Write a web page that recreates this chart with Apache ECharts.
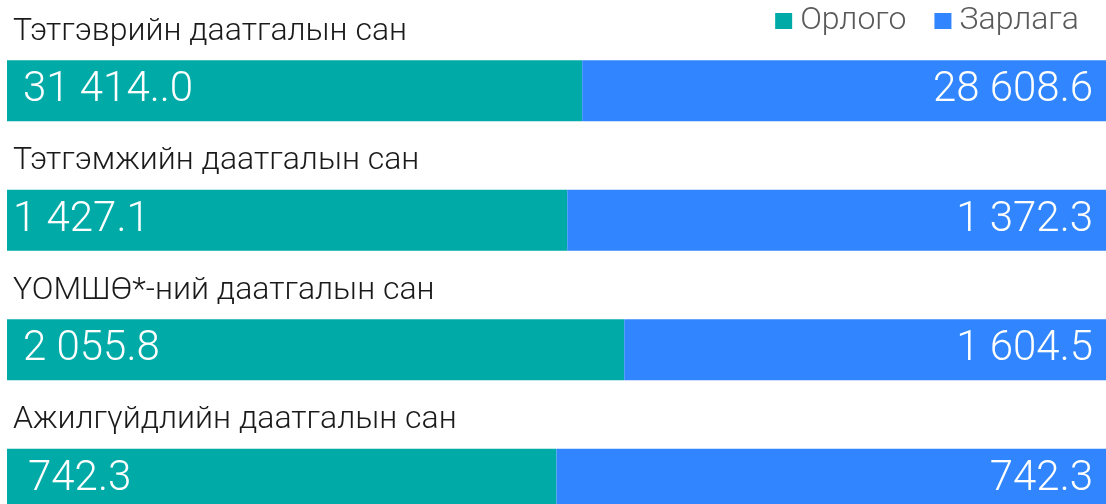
<!DOCTYPE html>
<html>
<head>
<meta charset="utf-8">
<script src="https://cdn.jsdelivr.net/npm/echarts@6/dist/echarts.min.js"></script>
<style>
  html, body { margin: 0; padding: 0; background: #fff; }
  #chart { width: 1106px; height: 504px; }
</style>
</head>
<body>
<div id="chart"></div>
<script>
const categories = [
  "Тэтгэврийн даатгалын сан",
  "Тэтгэмжийн даатгалын сан",
  "ҮОМШӨ*-ний даатгалын сан",
  "Ажилгүйдлийн даатгалын сан",
];
const income = [31414.0, 1427.1, 2055.8, 742.3];
const expense = [28608.6, 1372.3, 1604.5, 742.3];
const incomeLabels = ["31 414..0", "1 427.1", "2 055.8", "742.3"];
const expenseLabels = ["28 608.6", "1 372.3", "1 604.5", "742.3"];

// left padding of the income labels differs a bit per bar
const incomePad = [16, 6, 16, 21];

const totals = income.map((v, i) => v + expense[i]);
const incomeShare = income.map((v, i) => (v / totals[i]) * 100);
const expenseShare = expense.map((v, i) => (v / totals[i]) * 100);

const chart = echarts.init(document.getElementById("chart"));
chart.setOption({
  animation: false,
  legend: {
    right: 22,
    top: 0,
    itemWidth: 17,
    itemHeight: 16,
    itemGap: 28,
    icon: "rect",
    textStyle: { fontFamily: "Roboto", fontWeight: 300, fontSize: 32, color: "#5a5a5a", padding: [0, 0, 0, 3] },
    data: ["Орлого", "Зарлага"],
  },
  grid: { left: 7, right: 0, top: 26, bottom: -40, outerBoundsMode: "none" },
  xAxis: { type: "value", min: 0, max: 100, show: false },
  yAxis: {
    type: "category",
    inverse: true,
    data: categories,
    axisLine: { show: false },
    axisTick: { show: false },
    axisLabel: {
      inside: true,
      margin: 6,
      align: "left",
      verticalAlign: "bottom",
      lineHeight: 34,
      padding: [0, 0, 42, 0],
      fontFamily: "Roboto",
      fontWeight: 300,
      fontSize: 32,
      color: "#1a1a1a",
    },
    z: 10,
  },
  series: [
    {
      name: "Орлого",
      type: "bar",
      stack: "all",
      barWidth: 61,
      itemStyle: { color: "#00aba7" },
      data: incomeShare.map((v, i) => ({
        value: v,
        label: { distance: incomePad[i] },
      })),
      label: {
        show: true,
        position: "insideLeft",
        formatter: (p) => incomeLabels[p.dataIndex],
        fontFamily: "Roboto",
        fontWeight: 300,
        fontSize: 42,
        color: "#fff",
      },
    },
    {
      name: "Зарлага",
      type: "bar",
      stack: "all",
      barWidth: 61,
      itemStyle: { color: "#3186ff" },
      data: expenseShare,
      label: {
        show: true,
        position: "insideRight",
        distance: 13,
        formatter: (p) => expenseLabels[p.dataIndex],
        fontFamily: "Roboto",
        fontWeight: 300,
        fontSize: 42,
        color: "#fff",
      },
    },
  ],
});
</script>
</body>
</html>
